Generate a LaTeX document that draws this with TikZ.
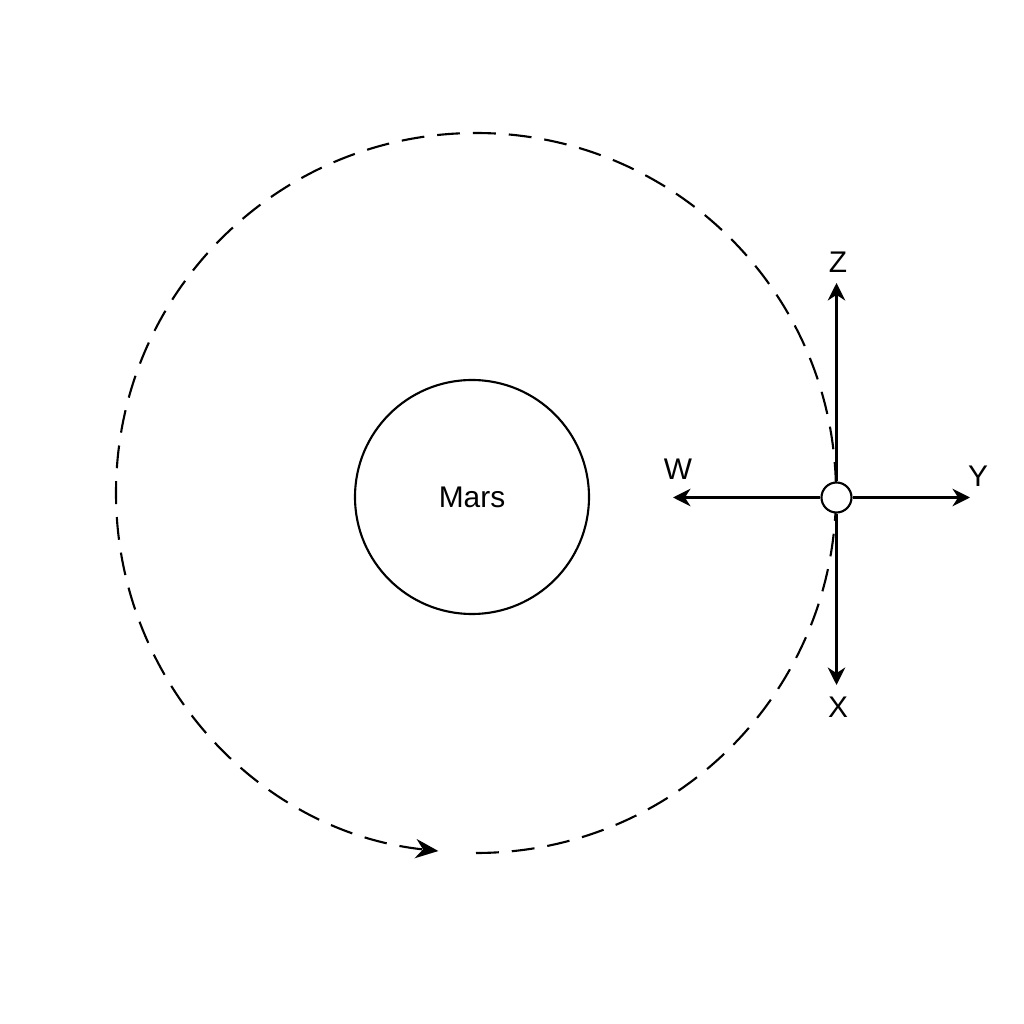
\documentclass[tikz,border=0pt]{standalone}
\usepackage{fontspec}
\setmainfont{Liberation Sans}
\usetikzlibrary{arrows.meta}

\begin{document}
\begin{tikzpicture}[line width=0.6pt, font=\fontsize{8.5}{10}\selectfont,
  axis/.style={-{Stealth[length=5pt,width=5pt]}},
  orbit/.style={dash pattern=on 6.5pt off 3.7pt, -{Stealth[length=6.5pt,width=5.5pt]}}]
\useasboundingbox[fill=white] (0,0) rectangle (10.24,10.24);

% planet and orbit
\node[circle, draw, minimum size=2.34cm] (mars) at (4.72,5.27) {Mars};
\coordinate (orbitc) at (4.76,5.31);
\draw[orbit] (orbitc) ++(-90:3.6) arc (-90:264:3.6);

% spacecraft with its axes
\node[circle, draw, fill=white, minimum size=0.3cm, inner sep=0pt] (craft) at (8.365,5.265) {};
\foreach \name/\x/\y/\lx/\ly in {Z/8.365/7.41/8.38/7.62, X/8.365/3.39/8.38/3.17,
  W/6.73/5.265/6.78/5.55, Y/9.70/5.265/9.78/5.48}
{
  \coordinate (\name end) at (\x,\y);
  \draw[axis] (craft) -- (\name end);
  \node (\name lab) at (\lx,\ly) {\name};
}
\end{tikzpicture}
\end{document}
